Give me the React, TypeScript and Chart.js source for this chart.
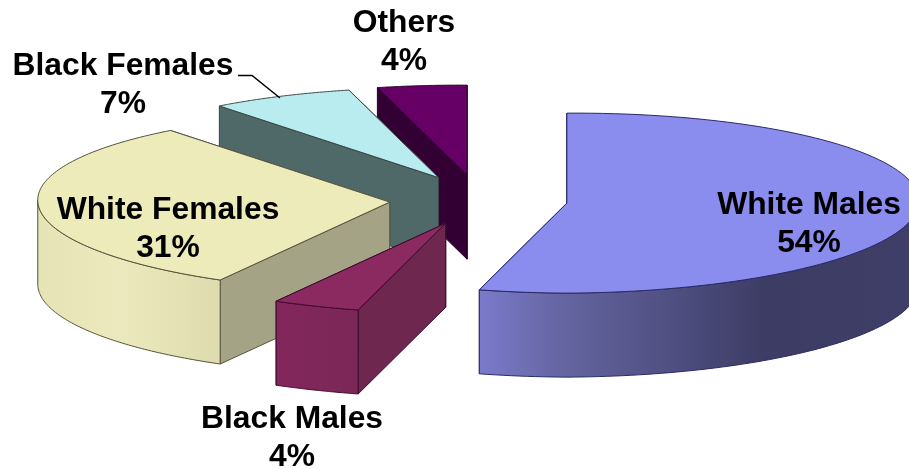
import React, { useEffect, useRef } from "react";
import { Chart, registerables } from "chart.js";

Chart.register(...registerables);

const categories = ["White Males", "Black Males", "White Females", "Black Females", "Others"];
const shares = [54, 4, 31.3, 6.6, 4.1];
const topColors = ["#8A8CEE", "#8A2A60", "#EEEBBB", "#B8ECEE", "#660066"];
const faceColors = ["#3C3C66", "#6E2850", "#A5A385", "#4F6868", "#330033"];
const edgeColors = ["#2A2A66", "#3E0A2E", "#55533A", "#3A4444", "#2A002A"];
const wallStops: [number, string][][] = [
  [[0, "#7A7ACB"], [0.2, "#64649F"], [0.45, "#4E4E80"], [0.65, "#3C3C64"], [1, "#3E3E68"]],
  [[0, "#84265C"], [1, "#7A2856"]],
  [[0, "#E6E3B6"], [0.45, "#ECE9BE"], [1, "#DEDBAE"]],
  [[0, "#4F6868"], [1, "#4F6868"]],
  [[0, "#330033"], [1, "#330033"]],
];
const paintOrder = [4, 3, 2, 1, 0];
const labelAnchors = [
  [809, 214],
  [292, 428],
  [168, 219],
  [123, 75],
  [404, 32],
];

const projection = { cx: 478.5, cy: 200, rx: 352, ry: 90, depth: 84, explode: 0.253, explodeTilt: 1.1, sideLift: 2 };

const pie3d = {
  id: "pie3d",
  beforeDatasetDraw(chart: any) {
    const ctx: CanvasRenderingContext2D = chart.ctx;
    const arcs = chart.getDatasetMeta(0).data;
    paintOrder.forEach((i) => {
      const arc = arcs[i];
      const R = arc.outerRadius;
      const sx = projection.rx / R;
      const sy = projection.ry / R;
      const a0 = arc.startAngle;
      const a1 = arc.endAngle;
      const mid = (a0 + a1) / 2;
      const ox = Math.cos(mid) * projection.explode * R;
      const oy = Math.sin(mid) * projection.explode * R * projection.explodeTilt;
      const rim = (t: number, d = 0): [number, number] => [
        projection.cx + sx * (ox + Math.cos(t) * R),
        projection.cy + sy * (oy + Math.sin(t) * R) + d - projection.sideLift * Math.abs(Math.cos(t)),
      ];
      const apex = (d = 0): [number, number] => [projection.cx + sx * ox, projection.cy + sy * oy + d];
      const d = projection.depth;

      // base of the top surface: the library's own arc element, squashed into the tilted plane
      ctx.save();
      ctx.translate(projection.cx, projection.cy);
      ctx.scale(sx, sy);
      ctx.translate(ox - arc.x, oy - arc.y);
      arc.draw(ctx);
      ctx.restore();

      const face = (t: number) => {
        const p = [apex(), rim(t), rim(t, d), apex(d)];
        ctx.beginPath();
        p.forEach(([x, y], k) => (k ? ctx.lineTo(x, y) : ctx.moveTo(x, y)));
        ctx.closePath();
        ctx.fillStyle = faceColors[i];
        ctx.fill();
        ctx.strokeStyle = edgeColors[i];
        ctx.lineWidth = 1;
        ctx.stroke();
      };
      face(a1);
      face(a0);

      const w0 = Math.max(a0, 0);
      const w1 = Math.min(a1, Math.PI);
      if (w1 > w0) {
        const n = 80;
        const xs: [number, number][] = [];
        for (let k = 0; k <= n; k++) xs.push(rim(w0 + ((w1 - w0) * k) / n));
        const backs = xs.map(([x, y]) => [x, y + d] as [number, number]).reverse();
        const minX = Math.min(...xs.map((p) => p[0]));
        const maxX = Math.max(...xs.map((p) => p[0]));
        const g = ctx.createLinearGradient(minX, 0, maxX, 0);
        wallStops[i].forEach(([s, c]) => g.addColorStop(s, c));
        ctx.beginPath();
        [...xs, ...backs].forEach(([x, y], k) => (k ? ctx.lineTo(x, y) : ctx.moveTo(x, y)));
        ctx.closePath();
        ctx.fillStyle = g;
        ctx.fill();
        ctx.strokeStyle = edgeColors[i];
        ctx.lineWidth = 1;
        ctx.stroke();
      }

      const n = 100;
      ctx.beginPath();
      const [ax, ay] = apex();
      ctx.moveTo(ax, ay);
      for (let k = 0; k <= n; k++) {
        const [x, y] = rim(a0 + ((a1 - a0) * k) / n);
        ctx.lineTo(x, y);
      }
      ctx.closePath();
      ctx.fillStyle = topColors[i];
      ctx.fill();
      ctx.strokeStyle = edgeColors[i];
      ctx.lineWidth = 1;
      ctx.stroke();
    });
    return false;
  },
  afterDatasetsDraw(chart: any) {
    const ctx: CanvasRenderingContext2D = chart.ctx;
    ctx.save();
    ctx.fillStyle = "#000";
    ctx.textAlign = "center";
    ctx.textBaseline = "alphabetic";
    ctx.font = "bold 31.8px 'Liberation Sans', Arial, sans-serif";
    categories.forEach((name, i) => {
      const [x, y] = labelAnchors[i];
      ctx.fillText(name, x, y);
      ctx.fillText(`${Math.round(shares[i])}%`, x, y + 38);
    });
    ctx.beginPath();
    ctx.moveTo(238, 75.5);
    ctx.lineTo(252, 75.5);
    ctx.lineTo(280, 98);
    ctx.strokeStyle = "#000";
    ctx.lineWidth = 1.5;
    ctx.stroke();
    ctx.restore();
  },
};

export default function App() {
  const ref = useRef<HTMLCanvasElement>(null);
  useEffect(() => {
    const chart = new Chart(ref.current as HTMLCanvasElement, {
      type: "pie",
      data: {
        labels: categories,
        datasets: [{ data: shares, backgroundColor: topColors, borderWidth: 0 }],
      },
      options: {
        responsive: false,
        animation: false,
        events: [],
        layout: { padding: 0 },
        plugins: { legend: { display: false }, tooltip: { enabled: false } },
      },
      plugins: [pie3d],
    } as any);
    return () => chart.destroy();
  }, []);
  return (
    <div style={{ position: "fixed", left: 0, top: 0, width: 909, height: 469, background: "#fff" }}>
      <canvas ref={ref} width={909} height={469} style={{ display: "block" }} />
    </div>
  );
}
